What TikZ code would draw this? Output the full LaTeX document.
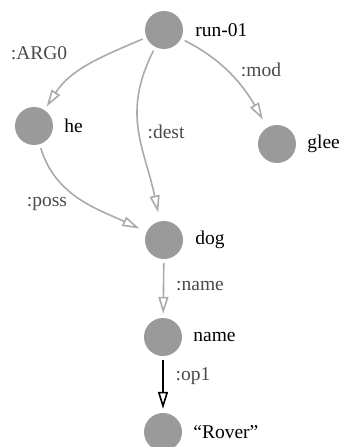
\documentclass[tikz,border=0pt]{standalone}
\usepackage{fontspec}
\setmainfont{Liberation Serif}
\usetikzlibrary{positioning,arrows.meta}
\definecolor{nodegray}{HTML}{9A9A9A}
\definecolor{edgegray}{HTML}{AAAAAA}
\definecolor{labelgray}{HTML}{4A4A4A}
\tikzset{
  concept/.style={circle,fill=nodegray,minimum size=38pt,inner sep=0pt},
  word/.style={inner sep=0pt,font=\fontsize{19.5}{22}\selectfont},
  role/.style={inner sep=0pt,text=labelgray,font=\fontsize{19.5}{22}\selectfont},
  rel/.style={edgegray,line width=1.6pt,-{Triangle[open,length=17pt,width=10pt]},shorten <=4pt,shorten >=4pt}
}

\begin{document}
\begin{tikzpicture}[x=1pt,y=-1pt]
\useasboundingbox (0,0) rectangle (340,447);
\node[concept] (run) at (164,30) {};
\node[concept] (he) at (34,126) {};
\node[concept] (glee) at (277,144) {};
\node[concept] (dog) at (164,240) {};
\node[concept] (name) at (163,337) {};
\node[concept] (rover) at (163,432) {};
\node[word,right=12pt of run] (runlab) {run-01};
\node[word,right=11pt of he] (helab) {he};
\node[word,right=11pt of glee] (gleelab) {glee};
\node[word,right=12pt of dog] (doglab) {dog};
\node[word,right=11pt of name] (namelab) {name};
\node[word,right=11pt of rover] (roverlab) {``Rover''};
\draw[rel] (run) to[out=203,in=57] (he);
\draw[rel,shorten >=9pt] (run) to[out=243,in=102,looseness=1.1] (dog);
\draw[rel,shorten >=9pt] (run) to[out=-27,in=120] (glee);
\draw[rel,shorten >=8pt] (he) to[out=-73,in=155] (dog);
\draw[rel] (dog) -- (name);
\draw[rel,black] (name) -- (rover);
\node[role] (arg0) at (39,53) {:ARG0};
\node[role] (mod) at (261,70) {:mod};
\node[role] (dest) at (166,132) {:dest};
\node[role] (poss) at (47,204) {:poss};
\node[role] (namerole) at (200,286) {:name};
\node[role] (op1) at (193,376) {:op1};
\end{tikzpicture}
\end{document}
